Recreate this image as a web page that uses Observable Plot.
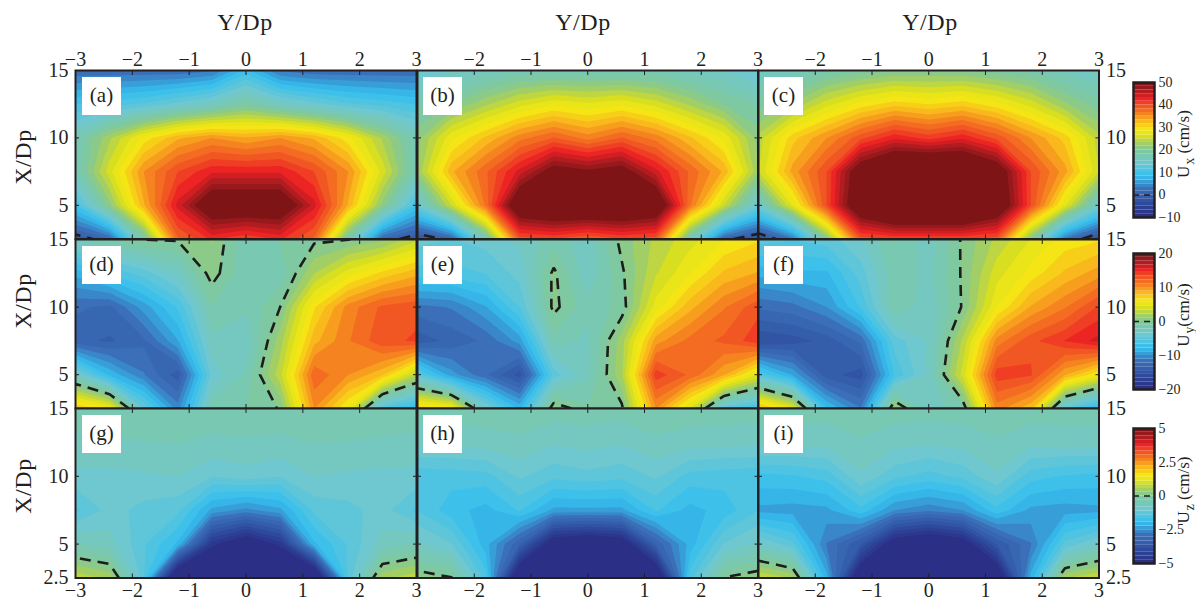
<!DOCTYPE html>
<html><head><meta charset="utf-8">
<script src="https://cdn.jsdelivr.net/npm/d3@7"></script>
<script src="https://cdn.jsdelivr.net/npm/@observablehq/plot@0.6"></script>
<style>
html,body{margin:0;padding:0;background:#fff;}
#page{position:relative;width:1196px;height:602px;overflow:hidden;font-family:"Liberation Serif",serif;color:#231f20;}
#page svg{position:absolute;background:transparent;}
.t{position:absolute;white-space:nowrap;transform:translate(-50%,-50%);}
.r{position:absolute;white-space:nowrap;transform:translate(-50%,-50%) rotate(-90deg);}
.tag{position:absolute;width:39px;height:38px;background:#fff;text-align:center;line-height:36px;font-size:21px;}
.s{font-size:.8em;position:relative;top:.35em;margin-left:1px;}
</style></head><body><div id="page"></div>
<script>
// Grid nodes: spanwise Y/Dp -3 ... 3 in 0.6 steps; rows X/Dp = 15, 12.5, 10, 7.5, 5, 2.5
const nSpanwise = 11, nStreamwise = 6;
const spanExtent = [-3.3,3.3], streamExtent = [16.25,1.25];
const axisTicksY = [-3,-2,-1,0,1,2,3];

const panelA = [
 [2,2,2,2,3,9,3,2,2,2,2],
 [10,11,12,14,16,19,16,14,12,11,10],
 [17,23,29,33,35,33.5,35,33,29,23,17],
 [17,26,35,40,43,43,43,40,35,26,17],
 [10,21,33,44,53,53,53,44,33,21,10],
 [-1.5,1.5,18,38,42,40,42,38,18,1.5,-1.5]];
const panelB = [
 [13,15,16,17,17,17,17,17,16,15,13],
 [18,20,23,26,28,27,28,26,23,20,18],
 [21,28,32,36,38.5,36,38.5,36,32,28,21],
 [22,33,38,44,50.5,49,50.5,44,38,33,22],
 [14,25,37,54,56,56,56,54,37,25,14],
 [-2.5,1,17,39,40,38,40,39,17,1,-2.5]];
const panelC = [
 [15,16,18,19,20,20,20,19,18,16,15],
 [19,22,26,29,31,30,31,29,26,22,19],
 [24,31,35,39.5,43,41,43,39.5,35,31,24],
 [25,34,40,52,57,58,57,52,40,34,25],
 [15,27,40,54,60,60,60,54,40,27,15],
 [-3,3,20,39,40,40,40,39,20,3,-3]];
const panelD = [
 [-2.5,-1.2,.02,.15,1.2,-2,-1,-.3,-.02,.8,3],
 [-8.5,-6.5,-5,-3,.6,-2,-1.9,2.2,5,7,8.5],
 [-12,-12.5,-9.5,-6.5,-1.2,-2,0,6.5,10.5,12.5,13],
 [-13,-13.5,-12.5,-9,-2.5,-3,1.7,8.5,11,13,13.5],
 [-3,-8,-11,-14,-4,-2,2.9,12,10,8,2.6],
 [8,5.8,-4.4,-10.5,-1.5,-1,.1,10,5.3,-5.8,-8.2]];
const panelE = [
 [-4,-4.5,-4,-3,-1.5,-3,.45,2.5,4,5.5,6.5],
 [-6,-6,-5.5,-4,.3,-3,-.25,3.2,5.5,8,9],
 [-11.5,-11,-9,-5.5,.4,-1.9,-.7,5,8.5,11,13],
 [-14,-13,-12,-9.5,-1.6,-2.5,1.7,9.5,11.5,12.5,14],
 [-5,-9.5,-12,-15,-5,-2.5,2,14,12,9,4.5],
 [7.5,6.3,-3,-8,1,-.9,-.33,10,4.2,-5.3,-7]];
const panelF = [
 [-5,-5.5,-5,-3.5,-1,-3,.25,2.5,4.5,6,6.5],
 [-8.5,-8,-8,-5,-1.5,-2.5,.2,4,6,8,9.5],
 [-12,-11.5,-10,-6.5,-1.2,-3,.15,5.5,9,11,13.5],
 [-15.5,-15,-14,-12,-5,-3.2,2.5,10.5,13,14.5,16],
 [-5.5,-9,-14,-15,-6.5,-3,3.8,14,13.5,9,5.5],
 [8.6,4.8,-7.5,-11,1.8,-3.3,-1.1,10.5,8,-4.8,-8.6]];
const panelG = [
 [-.45,-.45,-.45,-.45,-.45,-.45,-.45,-.45,-.45,-.45,-.45],
 [-.6,-.58,-.56,-.55,-.59,-.58,-.59,-.55,-.56,-.58,-.6],
 [-.93,-.92,-.88,-.83,-1.1,-.96,-1.1,-.83,-.88,-.92,-.93],
 [-1.45,-1,-1.2,-1.31,-2.3,-2.6,-2.3,-1.31,-1.2,-1,-1.45],
 [-.5,-.7,-1.35,-2,-4.6,-5.4,-4.6,-2,-1.35,-.7,-.5],
 [.75,.49,-1.3,-6,-6,-6,-6,-6,-1.3,.49,.75]];
const panelH = [
 [-.4,-.4,-.4,-.4,-.4,-.4,-.4,-.4,-.4,-.4,-.4],
 [-.75,-.72,-.68,-.6,-.8,-.72,-.8,-.6,-.68,-.72,-.75],
 [-1.6,-1.55,-1.5,-1.06,-1.3,-1.2,-1.3,-1.06,-1.5,-1.55,-1.6],
 [-1.4,-1.83,-2.05,-1.63,-2.3,-2.3,-2.3,-1.63,-2.05,-1.83,-1.4],
 [-.75,-1.1,-2.1,-3.3,-5.3,-5.6,-5.3,-3.3,-2.1,-1.1,-.75],
 [.2,.02,-1.5,-5.8,-6,-6,-6,-5.8,-1.5,.02,.2]];
const panelI = [
 [-.42,-.42,-.42,-.42,-.42,-.42,-.42,-.42,-.42,-.42,-.42],
 [-.7,-.7,-.72,-.58,-.72,-.78,-.72,-.58,-.72,-.7,-.7],
 [-1.75,-1.7,-1.55,-.88,-1.3,-1.5,-1.3,-.88,-1.55,-1.7,-1.75],
 [-2.3,-2.35,-2.3,-1.75,-2.5,-2.7,-2.5,-1.75,-2.3,-2.35,-2.3],
 [-.8,-1.3,-2.8,-3.6,-5.2,-5.6,-5.2,-3.6,-2.8,-1.3,-.8],
 [.83,.53,-2.1,-5.6,-6,-6,-6,-5.6,-2.1,.53,.83]];

const paletteStops = [0,.1,.2,.3,.4,.5,.55,.6,.65,.72,.78,.84,.89,.95,1];
const paletteColors = ["#2b2f85","#2f4fa0","#3b70b8","#35c0f0","#6fc8cf","#80c89b","#a8d05c","#d8de20","#f5eb14","#f9b31c","#f47b20","#f04e23","#ed2024","#a91c20","#7f1416"];
const nLevels = 36;

const fields = [
 {vmin:-10,vmax:50,ticks:[-10,0,10,20,30,40,50]},
 {vmin:-20,vmax:20,ticks:[-20,-10,0,10,20]},
 {vmin:-5,vmax:5,ticks:[-5,-2.5,0,2.5,5]}];
const rowNames = [["a","b","c"],["d","e","f"],["g","h","i"]];
const grids = [[panelA,panelB,panelC],[panelD,panelE,panelF],[panelG,panelH,panelI]];

const colLeft=[75,416.5,757.5], colWidth=[341,340.5,340.5];
const rowTop=[70,238.5,407.5], rowHeight=[168.5,169,169.5];
const bar=[{t:82,h:135},{t:253,h:136},{t:428,h:135}];
const M=34;
const page=document.getElementById("page");
const minus=d=>String(d).replace("-","\u2212");
const serif='"Liberation Serif",serif';

function colorOf(f){
  const step=(f.vmax-f.vmin)/nLevels;
  return {type:"linear",clamp:true,interpolate:"rgb",
    domain:paletteStops.map(t=>f.vmin+t*(f.vmax-f.vmin-step)),
    range:paletteColors};
}
function place(el,l,t){el.style.left=l+"px";el.style.top=t+"px";page.appendChild(el);}

rowNames.forEach((names,r)=>names.forEach((name,c)=>{
  const f=fields[r], step=(f.vmax-f.vmin)/nLevels;
  const thresholds=[-1000].concat(d3.range(1,nLevels).map(k=>f.vmin+k*step));
  const values=grids[r][c].flat();
  const yt=r===2?[2.5,5,10,15]:[5,10,15];
  const xLab=c===0?axisTicksY:axisTicksY.slice(1);
  const empty=()=>"";
  const box={width:nSpanwise,height:nStreamwise,x1:spanExtent[0],x2:spanExtent[1],y1:streamExtent[0],y2:streamExtent[1],clip:true};
  const marks=[
    Plot.contour(values,{...box,fill:Plot.identity,thresholds}),
    Plot.contour(values,{...box,value:Plot.identity,thresholds:[0],
      fill:"none",stroke:"#1d1d1b",strokeWidth:2.6,strokeDasharray:"11 7"}),
    Plot.axisX({anchor:"top",ticks:axisTicksY,tickSize:-4,tickPadding:(r===0?9:0),label:null,
      tickFormat:r===0?(d=>xLab.includes(d)?minus(d):""):empty}),
    Plot.axisX({anchor:"bottom",ticks:axisTicksY,tickSize:-4,tickPadding:(r===2?9:0),label:null,
      tickFormat:r===2?(d=>xLab.includes(d)?minus(d):""):empty}),
    Plot.axisY({anchor:"left",ticks:yt,tickSize:-4,tickPadding:(c===0?11:0),label:null,
      tickFormat:c===0?(d=>String(d)):empty}),
    Plot.axisY({anchor:"right",ticks:yt,tickSize:-4,tickPadding:(c===2?11:0),label:null,
      tickFormat:c===2?(d=>String(d)):empty}),
    Plot.frame({stroke:"#231f20",strokeWidth:2})
  ];
  const svg=Plot.plot({
    width:colWidth[c]+2*M,height:rowHeight[r]+2*M,
    marginLeft:M,marginRight:M,marginTop:M,marginBottom:M,
    style:{background:"transparent",fontFamily:serif,fontSize:"20px",color:"#231f20",maxWidth:"none",overflow:"visible"},
    x:{domain:[-3,3]},y:{domain:[2.5,15]},
    color:colorOf(f),marks
  });
  place(svg,colLeft[c]-M,rowTop[r]-M);
  const tag=document.createElement("div");tag.className="tag";tag.textContent="("+name+")";
  place(tag,colLeft[c]+7+(c?1:0)*-0.5,rowTop[r]+7);
}));

fields.forEach((f,r)=>{
  const step=(f.vmax-f.vmin)/nLevels;
  const levels=d3.range(0,nLevels).map(k=>f.vmin+k*step);
  const svg=Plot.plot({
    width:70,height:bar[r].h+20,marginLeft:4,marginRight:45,marginTop:10,marginBottom:10,
    style:{background:"transparent",fontFamily:serif,fontSize:"14px",color:"#231f20",maxWidth:"none",overflow:"visible"},
    x:{domain:[0,1],axis:null},y:{domain:[f.vmin,f.vmax]},color:colorOf(f),
    marks:[
      Plot.rectY(levels,{x1:0,x2:1,y1:d=>d,y2:d=>d+step,fill:d=>d,inset:0}),
      Plot.ruleY([0],{stroke:"#1d1d1b",strokeWidth:1.5,strokeDasharray:"6 5"}),
      Plot.axisY({anchor:"right",ticks:f.ticks,tickSize:0,tickPadding:4,label:null,tickFormat:minus}),
      Plot.frame({stroke:"#231f20",strokeWidth:2.5})
    ]});
  place(svg,1129,bar[r].t-10);
});

[245,583,930].forEach(x=>{const d=document.createElement("div");d.className="t";d.style.fontSize="24px";d.style.letterSpacing=".6px";d.textContent="Y/Dp";place(d,x,22);});
[157,301,486].forEach(y=>{const d=document.createElement("div");d.className="r";d.style.fontSize="24px";d.style.letterSpacing=".6px";d.textContent="X/Dp";place(d,23,y);});
[["U","x"," (cm/s)",144],["U","y","(cm/s)",315],["U","z"," (cm/s)",490]].forEach(([u,s,rest,y])=>{
  const d=document.createElement("div");d.className="r";d.style.fontSize="17px";
  d.append(u);const sp=document.createElement("span");sp.className="s";sp.textContent=s;d.append(sp);d.append(rest);
  place(d,1184,y);
});
</script></body></html>
